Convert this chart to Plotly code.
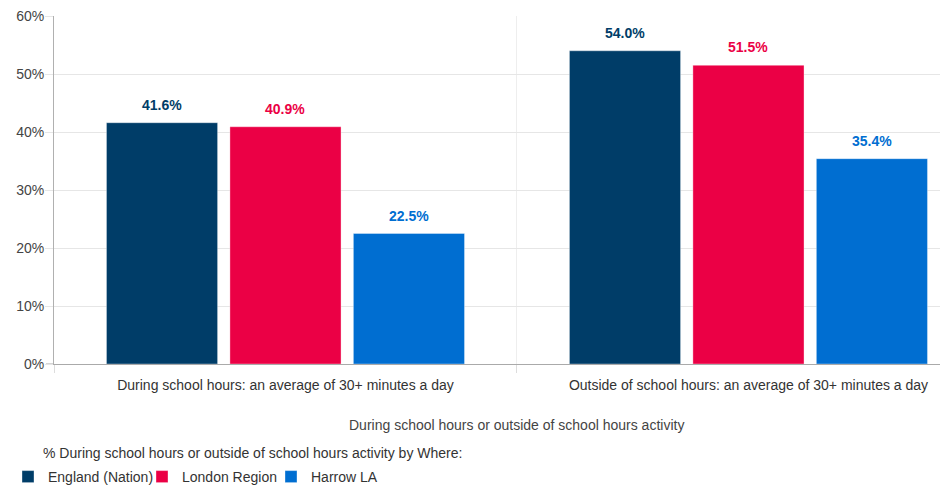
import plotly.graph_objects as go

categories = ["During school hours: an average of 30+ minutes a day",
              "Outside of school hours: an average of 30+ minutes a day"]
series_names = ["England (Nation)", "London Region", "Harrow LA"]
england = [41.6, 54.0]
london = [40.9, 51.5]
harrow = [22.5, 35.4]
series_values = [england, london, harrow]
colors = ["#003D68", "#EB0045", "#006ED1"]
y_ticks = [0, 10, 20, 30, 40, 50, 60]
y_tick_text = [f"{t}%" for t in y_ticks]

FONT = "Liberation Sans, Arial, sans-serif"
BARGAP = 0.2
BARGROUPGAP = 0.1
OFF = 8  # default page body margin
W, H = 940, 480
ML, MR, MT, MB = 46, 0, 8, 124
PW, PH = W - ML - MR, H - MT - MB


def px_x(px):
    return (px - OFF - ML) / PW


def px_y(py):
    return (H - MB - (py - OFF)) / PH


x_pos = list(range(len(categories)))
legend_names = ["legend", "legend2", "legend3"]
legend_text_x = [41, 182, 311]

fig = go.Figure()
for name, vals, col, lg in zip(series_names, series_values, colors, legend_names):
    fig.add_trace(go.Bar(x=x_pos, y=vals, name=name, legend=lg,
                         marker=dict(color=col, line=dict(color="rgba(255,255,255,0.35)", width=1)),
                         hoverinfo="skip"))

n = len(series_names)
slot = (1 - BARGAP) / n
annotations = []
for i, (vals, col) in enumerate(zip(series_values, colors)):
    for j, v in enumerate(vals):
        annotations.append(dict(x=x_pos[j] + (i - (n - 1) / 2) * slot, y=v, xref="x", yref="y",
                                text=f"{v:.1f}%", showarrow=False, yshift=18, yanchor="middle",
                                font=dict(family=FONT, size=14, color=col, weight="bold")))

annotations.append(dict(x=0.5, xref="x", y=px_y(425), yref="paper", yanchor="middle",
                        text="During school hours or outside of school hours activity",
                        showarrow=False, font=dict(family=FONT, size=14, color="#444")))
annotations.append(dict(x=px_x(41), xref="paper", y=px_y(453), yref="paper", yanchor="middle",
                        xanchor="left",
                        text="% During school hours or outside of school hours activity by Where:",
                        showarrow=False, font=dict(family=FONT, size=14, color="#333")))

legend_common = dict(orientation="h", xref="container", yref="container",
                     y=(H - (477 - OFF)) / H, xanchor="left", yanchor="middle",
                     font=dict(family=FONT, size=14, color="#333"),
                     itemclick=False, itemdoubleclick=False, bgcolor="rgba(0,0,0,0)")
legends = {}
for lg, tx in zip(legend_names, legend_text_x):
    legends[lg] = dict(legend_common, x=max(0.0, (tx - OFF - 40) / W))

fig.update_layout(
    width=W, height=H,
    margin=dict(l=ML, r=MR, t=MT, b=MB),
    paper_bgcolor="white", plot_bgcolor="white",
    barmode="group", bargap=BARGAP, bargroupgap=BARGROUPGAP,
    font=dict(family=FONT, size=14, color="#444"),
    showlegend=True,
    annotations=annotations,
    xaxis=dict(range=[-0.5, 1.431], tickvals=x_pos, ticktext=categories,
               showgrid=False, zeroline=False, showline=True, linecolor="#aaaaaa", linewidth=1,
               ticks="outside", ticklen=8, tickcolor="rgba(0,0,0,0)",
               tickfont=dict(family=FONT, size=14, color="#333"),
               minor=dict(tickvals=[-0.5, 0.5], ticks="outside", ticklen=8, tickcolor="#dddddd",
                          showgrid=True, gridcolor="#eeeeee", gridwidth=1)),
    yaxis=dict(range=[0, 60], tickvals=y_ticks, ticktext=y_tick_text, showgrid=True,
               gridcolor="#e6e6e6", ticklabeloverflow="allow", ticklabelstandoff=-2,
               zeroline=False, showline=True, linecolor="#b0b0b0", linewidth=1,
               ticks="outside", ticklen=8, tickcolor="#e6e6e6",
               tickfont=dict(family=FONT, size=14, color="#444")),
    **legends,
)
fig.add_shape(type="line", xref="paper", yref="y", x0=-8 / PW, x1=0, y0=0, y1=0,
              line=dict(color="#aaaaaa", width=1))

fig.write_html("out.html")
